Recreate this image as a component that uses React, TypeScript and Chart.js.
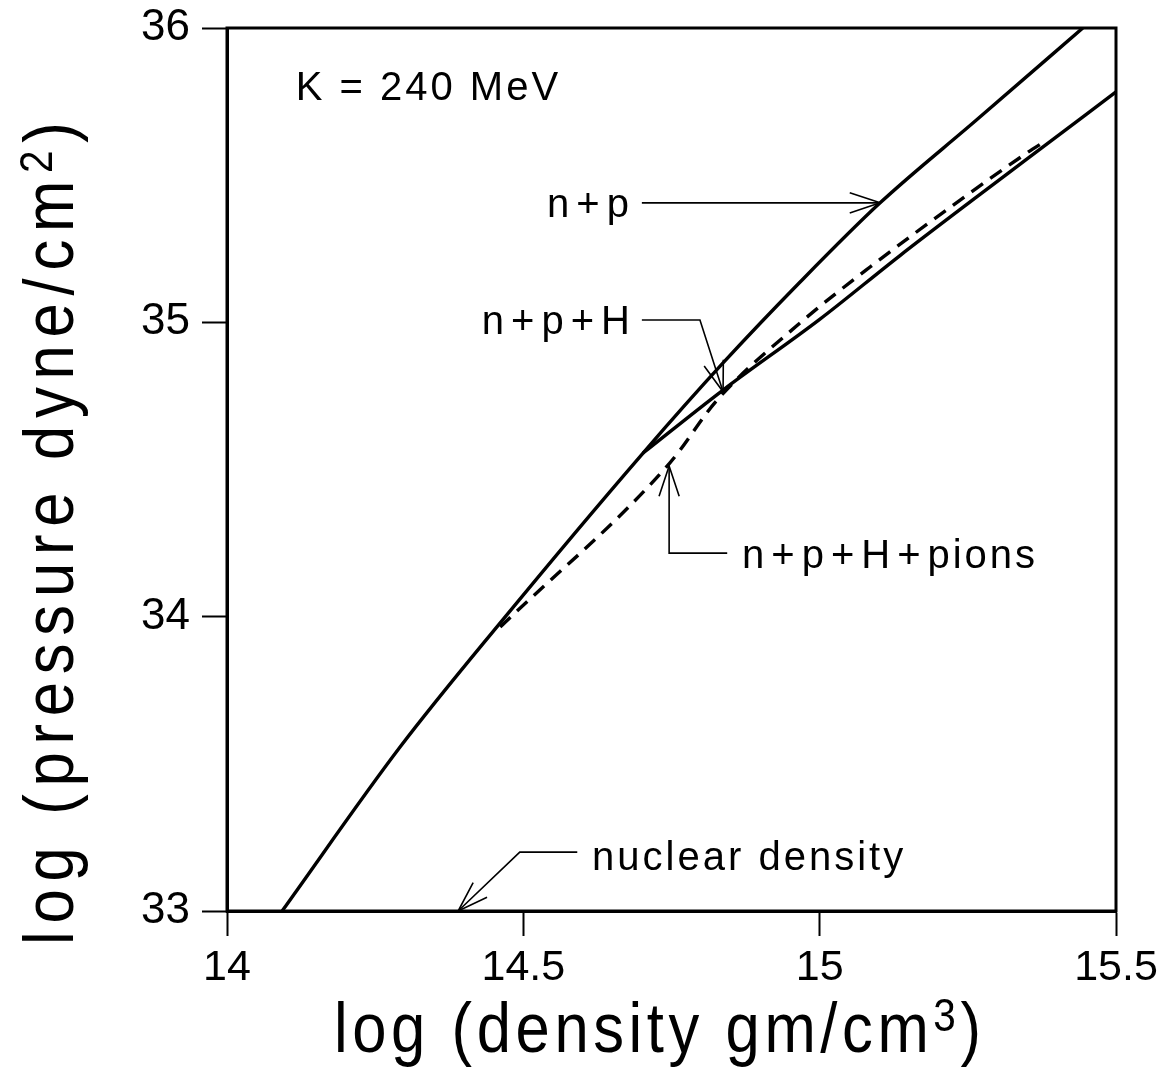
import { useEffect, useRef } from "react";
import { Chart, registerables } from "chart.js";

Chart.register(...registerables);

// ---- data (log density, log pressure) ----
const npX = [14.093, 14.292, 14.461, 14.702, 14.837, 14.967, 15.102, 15.265, 15.444];
const npY = [33.0, 33.557, 33.979, 34.556, 34.862, 35.137, 35.406, 35.688, 36.0];

const nphX = [14.702, 14.837, 15.0, 15.135, 15.265, 15.35, 15.5];
const nphY = [34.556, 34.77, 35.01, 35.226, 35.426, 35.555, 35.783];

const pionX = [14.461, 14.747, 14.827, 14.967, 15.085, 15.254, 15.35, 15.38];
const pionY = [33.965, 34.522, 34.736, 34.998, 35.188, 35.44, 35.576, 35.615];

const xTickValues = [14, 14.5, 15, 15.5];
const xTickLabels = ["14", "14.5", "15", "15.5"];
const yTickValues = [33, 34, 35, 36];
const yTickLabels = ["33", "34", "35", "36"];

const FONT = "'Liberation Sans', Arial, Helvetica, sans-serif";

type Pt = [number, number];

function spacedText(ctx: CanvasRenderingContext2D, text: string, x: number, y: number, spacing: number, plusPad: number) {
  let cx = x;
  for (const ch of text) {
    if (ch === "+") cx += plusPad;
    ctx.fillText(ch, cx, y);
    cx += ctx.measureText(ch).width;
    if (ch === "+") cx += plusPad;
    cx += spacing;
  }
  return cx - spacing;
}

function drawTitle(ctx: CanvasRenderingContext2D, main: string, sup: string, spacing: number) {
  ctx.font = `70px ${FONT}`;
  let end = spacedText(ctx, main, 0, 0, spacing, 0);
  ctx.font = `46px ${FONT}`;
  end = spacedText(ctx, sup, end + spacing, -21, 0, 0);
  ctx.font = `70px ${FONT}`;
  spacedText(ctx, ")", end + spacing, 0, 0, 0);
}

const annotationPlugin = {
  id: "annotations",
  afterDraw(chart: any) {
    const ctx: CanvasRenderingContext2D = chart.ctx;
    const xs = chart.scales.x;
    const ys = chart.scales.y;
    const px = (v: number) => xs.getPixelForValue(v);
    const py = (v: number) => ys.getPixelForValue(v);
    const area = chart.chartArea;

    ctx.save();
    // frame
    ctx.strokeStyle = "#000";
    ctx.lineWidth = 3;
    ctx.strokeRect(area.left, area.top, area.right - area.left, area.bottom - area.top);

    // labels
    ctx.fillStyle = "#000";
    ctx.textBaseline = "alphabetic";
    ctx.textAlign = "left";
    ctx.font = `40px ${FONT}`;
    const labels: { t: string; at: Pt }[] = [
      { t: "K = 240 MeV", at: [14.116, 35.756] },
      { t: "n+p", at: [14.54, 35.358] },
      { t: "n+p+H", at: [14.43, 34.961] },
      { t: "n+p+H+pions", at: [14.869, 34.165] },
      { t: "nuclear density", at: [14.616, 33.139] },
    ];
    for (const l of labels) spacedText(ctx, l.t, px(l.at[0]), py(l.at[1]), 3, 4);

    // leader arrows
    const arrows: Pt[][] = [
      [[14.7, 35.406], [15.102, 35.406]],
      [[14.7, 35.008], [14.798, 35.008], [14.837, 34.764]],
      [[14.844, 34.216], [14.746, 34.216], [14.746, 34.512]],
      [[14.591, 33.2], [14.494, 33.2], [14.39, 33.0]],
    ];
    ctx.lineWidth = 1.6;
    for (const a of arrows) {
      const p = a.map(([x, y]) => [px(x), py(y)]);
      ctx.beginPath();
      ctx.moveTo(p[0][0], p[0][1]);
      for (let i = 1; i < p.length; i++) ctx.lineTo(p[i][0], p[i][1]);
      ctx.stroke();
      const [tx, ty] = p[p.length - 1];
      const [sx, sy] = p[p.length - 2];
      const ang = Math.atan2(ty - sy, tx - sx);
      const len = 32;
      const half = 0.32;
      ctx.beginPath();
      ctx.moveTo(tx - len * Math.cos(ang - half), ty - len * Math.sin(ang - half));
      ctx.lineTo(tx, ty);
      ctx.lineTo(tx - len * Math.cos(ang + half), ty - len * Math.sin(ang + half));
      ctx.stroke();
    }

    // x axis title (condensed)
    ctx.save();
    ctx.translate(334, 1052);
    ctx.scale(0.88, 1);
    drawTitle(ctx, "log (density gm/cm", "3", 5.2);
    ctx.restore();

    // y axis title
    ctx.save();
    ctx.translate(73, 945);
    ctx.rotate(-Math.PI / 2);
    ctx.scale(0.88, 1);
    drawTitle(ctx, "log (pressure dyne/cm", "2", 8.8);
    ctx.restore();

    ctx.restore();
  },
};

const zeroPad = (s: any) => {
  s.paddingTop = 0;
  s.paddingBottom = 0;
  s.paddingLeft = 0;
  s.paddingRight = 0;
};

export default function App() {
  const ref = useRef<HTMLCanvasElement | null>(null);
  useEffect(() => {
    if (!ref.current) return;
    const mk = (xsArr: number[], ysArr: number[]) => xsArr.map((x, i) => ({ x, y: ysArr[i] }));
    const line = {
      borderColor: "#000",
      borderWidth: 3.4,
      pointRadius: 0,
      fill: false,
      cubicInterpolationMode: "monotone" as const,
    };
    const chart = new Chart(ref.current, {
      type: "line",
      data: {
        datasets: [
          { label: "n+p", data: mk(npX, npY), ...line },
          { label: "n+p+H", data: mk(nphX, nphY), ...line },
          { label: "n+p+H+pions", data: mk(pionX, pionY), ...line, borderWidth: 3.4, borderDash: [14, 9] },
        ],
      },
      options: {
        responsive: false,
        animation: false,
        devicePixelRatio: 1,
        layout: { padding: { top: 28, right: 41, left: 0, bottom: 0 } },
        plugins: { legend: { display: false }, tooltip: { enabled: false }, title: { display: false } },
        scales: {
          x: {
            type: "linear",
            min: 14,
            max: 15.5,
            afterFit: (s: any) => { s.height = 165; zeroPad(s); },
            afterBuildTicks: (s: any) => { s.ticks = xTickValues.map((v) => ({ value: v })); },
            grid: { drawOnChartArea: false, drawTicks: true, tickLength: 25, tickWidth: 2, tickColor: "#000" },
            border: { display: true, color: "#000", width: 3 },
            ticks: {
              color: "#000",
              font: { family: FONT, size: 43 },
              padding: 6,
              maxRotation: 0,
              callback: (v: any) => { const i = xTickValues.indexOf(Number(v)); return i >= 0 ? xTickLabels[i] : ""; },
            },
          },
          y: {
            type: "linear",
            min: 33,
            max: 36,
            afterFit: (s: any) => { s.width = 227; zeroPad(s); },
            afterBuildTicks: (s: any) => { s.ticks = yTickValues.map((v) => ({ value: v })); },
            grid: { drawOnChartArea: false, drawTicks: true, tickLength: 25, tickWidth: 2, tickColor: "#000" },
            border: { display: true, color: "#000", width: 3 },
            ticks: {
              color: "#000",
              font: { family: FONT, size: 44 },
              padding: 12,
              callback: (v: any) => { const i = yTickValues.indexOf(Number(v)); return i >= 0 ? yTickLabels[i] : ""; },
            },
          },
        },
      },
      plugins: [annotationPlugin],
    });
    return () => chart.destroy();
  }, []);
  return (
    <div style={{ position: "fixed", left: 0, top: 0, width: 1157, height: 1076, background: "#fff" }}>
      <canvas ref={ref} width={1157} height={1076} />
    </div>
  );
}
